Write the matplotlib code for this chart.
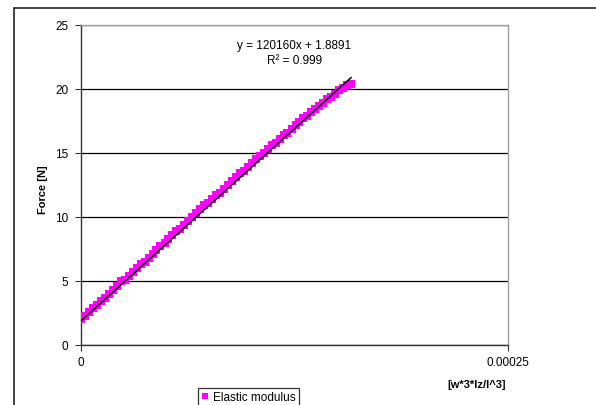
import numpy as np
import matplotlib
matplotlib.use("Agg")
import matplotlib.pyplot as plt
from matplotlib.patches import Rectangle

plt.rcParams['font.family'] = ['Liberation Sans', 'DejaVu Sans']

# measured points, x in units of 1e-6
x_micro = [0.0, 2.3, 4.7, 7.0, 9.3, 11.6, 14.0, 16.3, 18.6, 21.0,
           23.3, 25.6, 27.9, 30.3, 32.6, 34.9, 37.2, 39.6, 41.9, 44.2,
           46.5, 48.9, 51.2, 53.5, 55.8, 58.2, 60.5, 62.8, 65.1, 67.5,
           69.8, 72.1, 74.4, 76.8, 79.1, 81.4, 83.7, 86.1, 88.4, 90.7,
           93.0, 95.4, 97.7, 100.0, 102.3, 104.7, 107.0, 109.3, 111.6, 114.0,
           116.3, 118.6, 120.9, 123.3, 125.6, 127.9, 130.2, 132.6, 134.9, 137.2,
           139.5, 141.9, 144.2, 146.5, 148.8, 151.2, 153.5, 155.8, 158.1]
force = [2.0, 2.3, 2.6, 2.9, 3.1, 3.4, 3.7, 4.0, 4.3, 4.6,
         5.0, 5.1, 5.4, 5.7, 6.0, 6.3, 6.5, 6.8, 7.1, 7.4,
         7.7, 8.0, 8.3, 8.6, 8.9, 9.1, 9.4, 9.7, 10.0, 10.3,
         10.6, 10.9, 11.1, 11.4, 11.7, 11.9, 12.2, 12.5, 12.8, 13.1,
         13.4, 13.6, 13.9, 14.2, 14.5, 14.8, 15.0, 15.3, 15.6, 15.8,
         16.1, 16.4, 16.6, 16.9, 17.2, 17.4, 17.7, 17.9, 18.2, 18.4,
         18.7, 18.9, 19.2, 19.4, 19.6, 19.9, 20.1, 20.3, 20.4]

slope = 120160
intercept = 1.8891
r2 = 0.999

x = np.array(x_micro) * 1e-6
y = np.array(force)

fig = plt.figure(figsize=(5.96, 4.05), dpi=100)
ax = fig.add_axes([81 / 596, 60 / 405, 427 / 596, 320 / 405])

# outer chart frame (cut off on right and bottom)
fig.patches.append(Rectangle((13.5 / 596, -0.2), 1.2, 1.2 - 8 / 405,
                             transform=fig.transFigure, fill=False,
                             edgecolor='#222222', linewidth=1.2))

ax.set_xlim(0, 0.00025)
ax.set_ylim(0, 25)
ax.set_yticks([0, 5, 10, 15, 20, 25])
ax.set_xticks([0, 0.00025])
ax.set_xticklabels(['0', '0.00025'])
ax.yaxis.grid(True, color='black', linewidth=0.9)
ax.set_axisbelow(True)

for s in ['top', 'right']:
    ax.spines[s].set_color('#a0a0a0')
for s in ['left', 'bottom']:
    ax.spines[s].set_color('#333333')
for s in ax.spines.values():
    s.set_linewidth(1.0)

ax.tick_params(axis='both', direction='out', length=4, width=0.8,
               labelsize=8.5, colors='#333333', labelcolor='black', pad=5)

ax.plot(x, y, 's', color='#ff00ff', markersize=5.2, markeredgewidth=0,
        label='Elastic modulus', zorder=3)
xl = np.array([0, x[-1]])
ax.plot(xl, slope * xl + intercept, color='black', linewidth=1.1, zorder=4)

ax.text(0.499, 0.911, f'y = {slope}x + {intercept}\nR\u00b2 = {r2}',
        transform=ax.transAxes, ha='center', va='center', fontsize=8.5,
        linespacing=1.35)

fig.text(43 / 596, 1 - 190 / 405, 'Force [N]', rotation=90, ha='center',
         va='center', fontsize=8, fontweight='bold')
fig.text(477 / 596, 1 - 385 / 405, '[w*3*Iz/l^3]', ha='center',
         va='center', fontsize=8, fontweight='bold')

leg = fig.legend(loc='lower left', bbox_to_anchor=(192 / 596, -8 / 405),
                 fontsize=8.5, frameon=True, fancybox=False, handlelength=0.6,
                 handletextpad=0.4, borderpad=0.3, markerscale=0.9)
leg.get_frame().set_edgecolor('black')
leg.get_frame().set_linewidth(0.9)

fig.savefig('out.png', dpi=100)
